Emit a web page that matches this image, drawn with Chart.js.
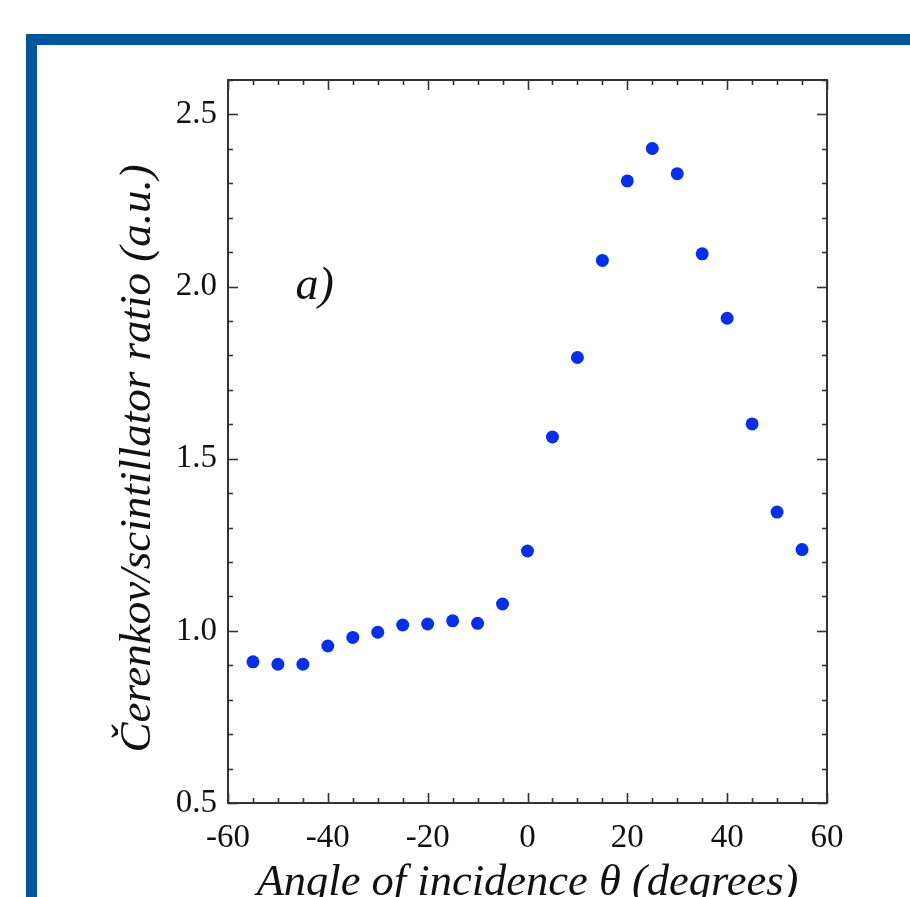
<!DOCTYPE html>
<html>
<head>
<meta charset="utf-8">
<script src="https://cdn.jsdelivr.net/npm/chart.js@4.4.1/dist/chart.umd.min.js"></script>
<style>
  html, body { margin: 0; padding: 0; background: #fff; overflow: hidden; }
  #wrap { position: relative; width: 910px; height: 897px; }
  #frame { position: absolute; left: 26px; top: 34px; width: 900px; height: 900px;
           border-left: 11px solid #00559a; border-top: 11px solid #00559a; box-sizing: border-box; }
  canvas { position: absolute; left: 0; top: 0; }
</style>
</head>
<body>
<div id="wrap">
  <div id="frame"></div>
  <canvas id="c" width="910" height="897"></canvas>
</div>
<script>
// ---- data ----
const angles = [-55, -50, -45, -40, -35, -30, -25, -20, -15, -10, -5, 0, 5, 10, 15, 20, 25, 30, 35, 40, 45, 50, 55];
const ratios = [0.91, 0.903, 0.903, 0.956, 0.981, 0.996, 1.017, 1.020, 1.029, 1.022, 1.078, 1.232, 1.563, 1.794, 2.076, 2.307, 2.401, 2.328, 2.095, 1.908, 1.601, 1.345, 1.236];
const xTickLabels = ['-60', '-40', '-20', '0', '20', '40', '60'];
const yTickLabels = ['0.5', '1.0', '1.5', '2.0', '2.5'];
const xTitle = 'Angle of incidence \u03B8 (degrees)';
const yTitle = '\u010Cerenkov/scintillator ratio (a.u.)   ';
const panelLabel = 'a)';
const panelLabelPos = { x: -46.5, y: 1.965 };

const serif = "'Liberation Serif', 'Times New Roman', serif";
const axisColor = '#333333';

const frameTicks = {
  id: 'frameTicks',
  beforeDatasetsDraw(chart) {
    const { ctx, chartArea: a, scales: { x, y } } = chart;
    ctx.save();
    ctx.strokeStyle = axisColor;
    ctx.lineWidth = 1.6;
    const seg = (x1, y1, x2, y2) => { ctx.beginPath(); ctx.moveTo(x1, y1); ctx.lineTo(x2, y2); ctx.stroke(); };
    x.ticks.forEach(t => {
      const px = Math.round(x.getPixelForValue(t.value)) + 0.5;
      const major = xTickLabels.includes(String(Math.round(t.value)));
      const len = major ? 10 : 5;
      seg(px, a.bottom, px, a.bottom - len);
      seg(px, a.top, px, a.top + len);
    });
    y.ticks.forEach(t => {
      const py = Math.round(y.getPixelForValue(t.value)) + 0.5;
      const major = yTickLabels.includes(t.value.toFixed(1));
      const len = major ? 10 : 5;
      seg(a.left, py, a.left + len, py);
      seg(a.right, py, a.right - len, py);
    });
    ctx.lineWidth = 2;
    ctx.strokeRect(a.left, a.top, a.right - a.left, a.bottom - a.top);
    // panel label
    ctx.fillStyle = '#111';
    ctx.font = "italic 46px " + serif;
    ctx.textAlign = 'left';
    ctx.textBaseline = 'alphabetic';
    ctx.fillText(panelLabel, x.getPixelForValue(panelLabelPos.x), y.getPixelForValue(panelLabelPos.y));
    ctx.restore();
  }
};

new Chart(document.getElementById('c'), {
  type: 'scatter',
  data: {
    datasets: [{
      data: angles.map((a, i) => ({ x: a, y: ratios[i] })),
      pointRadius: 6.5,
      pointHoverRadius: 6.5,
      pointStyle: 'circle',
      backgroundColor: '#0630e6',
      borderColor: '#0630e6',
      borderWidth: 0
    }]
  },
  options: {
    responsive: false,
    animation: false,
    events: [],
    layout: { padding: { left: 126, top: 80, right: 83, bottom: 0 } },
    plugins: { legend: { display: false }, tooltip: { enabled: false } },
    scales: {
      x: {
        type: 'linear', min: -60, max: 60,
        grid: { display: false, drawTicks: false },
        border: { display: false },
        afterFit(s) { s.height = 94; },
        ticks: {
          stepSize: 5, autoSkip: false, maxRotation: 0, padding: 16, color: '#111',
          font: { family: serif, size: 33 },
          callback: v => xTickLabels.includes(String(Math.round(v))) ? String(Math.round(v)) : ''
        },
        title: { display: true, text: xTitle, color: '#111', padding: 0,
                 font: { family: serif, style: 'italic', size: 44.5, lineHeight: 0.6 } }
      },
      y: {
        type: 'linear', min: 0.5, max: 2.6,
        grid: { display: false, drawTicks: false },
        border: { display: false },
        afterFit(s) { s.width = 102; },
        ticks: {
          stepSize: 0.1, autoSkip: false, padding: 11, color: '#111',
          font: { family: serif, size: 33 },
          callback: v => yTickLabels.includes(v.toFixed(1)) ? v.toFixed(1) : ''
        },
        title: { display: true, text: yTitle, color: '#111', padding: 0,
                 font: { family: serif, style: 'italic', size: 45, lineHeight: 0.55 } }
      }
    }
  },
  plugins: [frameTicks]
});
</script>
</body>
</html>
